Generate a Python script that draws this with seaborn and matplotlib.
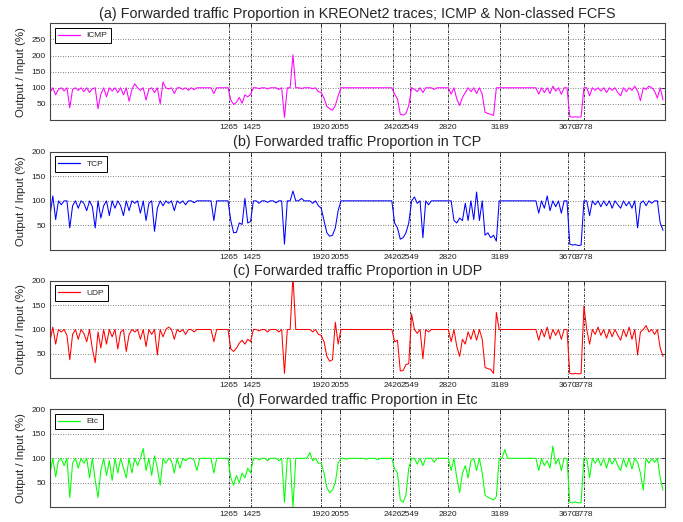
import numpy as np
import pandas as pd
import matplotlib
matplotlib.use("Agg")
import matplotlib.pyplot as plt
from matplotlib.lines import Line2D
import seaborn as sns

# ---------------- data ----------------
# sample positions (trace index), every 20 samples from 0 to 4340
X = np.arange(0, 4341, 20)

EVENT_TICKS = [1265, 1425, 1920, 2055, 2426, 2549, 2820, 3189, 3670, 3778]

ICMP = [
    85, 100, 78, 95, 100, 90, 100, 38, 95, 100,        # 0-180
    92, 100, 88, 100, 85, 97, 100, 35, 80, 100,        # 200-380
    72, 100, 90, 100, 85, 100, 78, 100, 58, 95,        # 400-580
    112, 100, 92, 100, 62, 95, 100, 85, 100, 50,       # 600-780
    118, 100, 96, 100, 82, 100, 100, 95, 100, 92,      # 800-980
    100, 94, 100, 100, 100, 100, 100, 100, 82, 100,    # 1000-1180
    100, 100, 100, 100, 62, 48, 55, 70, 52, 78,        # 1200-1380
    72, 80, 100, 100, 97, 100, 100, 96, 100, 100,      # 1400-1580
    100, 95, 100, 8, 100, 100, 202, 100, 100, 98,      # 1600-1780
    100, 100, 100, 97, 100, 88, 85, 68, 42, 35,        # 1800-1980
    30, 45, 75, 100, 100, 100, 100, 100, 100, 100,     # 2000-2180
    100, 100, 100, 100, 100, 100, 100, 100, 100, 100,  # 2200-2380
    100, 100, 80, 65, 18, 15, 20, 45, 100, 95,         # 2400-2580
    88, 100, 85, 100, 100, 100, 95, 100, 100, 100,     # 2600-2780
    100, 100, 80, 100, 65, 45, 70, 85, 100, 88,        # 2800-2980
    100, 82, 100, 80, 24, 20, 18, 14, 100, 100,        # 3000-3180
    100, 100, 100, 100, 100, 100, 100, 100, 100, 100,  # 3200-3380
    100, 100, 100, 80, 100, 85, 100, 82, 105, 90,      # 3400-3580
    100, 80, 100, 100, 10, 9, 10, 9, 10, 100,          # 3600-3780
    100, 75, 100, 92, 100, 90, 100, 85, 100, 92,       # 3800-3980
    100, 85, 75, 100, 88, 100, 92, 105, 90, 60,        # 4000-4180
    100, 95, 105, 100, 90, 68, 100, 62,                # 4200-4340
]

TCP = [
    70, 110, 62, 100, 92, 100, 100, 45, 90, 100,
    85, 100, 95, 80, 100, 88, 45, 100, 65, 90,
    100, 70, 100, 85, 100, 90, 70, 100, 80, 100,
    95, 100, 75, 100, 60, 95, 100, 38, 85, 100,
    90, 100, 95, 100, 80, 100, 95, 100, 92, 100,
    100, 96, 100, 100, 100, 100, 100, 100, 60, 100,
    100, 100, 100, 100, 60, 35, 36, 55, 52, 105,
    55, 58, 100, 100, 95, 100, 100, 97, 100, 100,
    96, 100, 100, 12, 100, 100, 120, 100, 100, 105,
    100, 100, 100, 95, 100, 90, 85, 60, 35, 28,
    30, 45, 80, 100, 100, 100, 100, 100, 100, 100,
    100, 100, 100, 100, 100, 100, 100, 100, 100, 100,
    100, 100, 55, 45, 22, 25, 35, 55, 100, 108,
    95, 100, 25, 100, 92, 100, 100, 100, 100, 100,
    100, 100, 100, 60, 55, 65, 60, 95, 60, 100,
    62, 118, 60, 100, 30, 35, 25, 30, 18, 100,
    100, 100, 100, 100, 100, 100, 100, 100, 100, 100,
    100, 100, 100, 75, 100, 85, 110, 80, 100, 88,
    100, 75, 100, 100, 12, 10, 11, 9, 10, 100,
    100, 70, 100, 92, 100, 88, 100, 90, 100, 85,
    100, 92, 85, 100, 90, 98, 85, 100, 45, 95,
    100, 90, 100, 95, 100, 100, 55, 40,
]

UDP = [
    75, 105, 70, 100, 95, 100, 88, 38, 90, 100,
    80, 100, 92, 75, 100, 60, 32, 95, 62, 100,
    70, 100, 85, 100, 60, 95, 100, 55, 90, 100,
    95, 100, 80, 100, 65, 100, 90, 100, 48, 100,
    85, 100, 105, 100, 80, 100, 95, 100, 90, 100,
    100, 95, 100, 100, 100, 100, 100, 100, 75, 100,
    100, 100, 100, 100, 60, 55, 62, 72, 78, 70,
    80, 75, 100, 100, 97, 100, 100, 95, 100, 100,
    100, 95, 100, 10, 100, 100, 210, 100, 100, 100,
    100, 100, 100, 95, 100, 90, 88, 75, 45, 35,
    38, 115, 70, 100, 100, 100, 100, 100, 100, 100,
    100, 100, 100, 100, 100, 100, 100, 100, 100, 100,
    100, 100, 75, 78, 15, 16, 28, 30, 132, 100,
    92, 100, 40, 100, 95, 100, 100, 100, 100, 100,
    100, 100, 75, 100, 65, 45, 80, 70, 95, 80,
    100, 78, 100, 80, 22, 20, 18, 10, 135, 100,
    100, 100, 100, 100, 100, 100, 100, 100, 100, 100,
    100, 100, 100, 78, 100, 85, 105, 80, 100, 88,
    100, 80, 100, 100, 10, 9, 10, 9, 10, 148,
    100, 70, 100, 90, 105, 88, 100, 82, 100, 85,
    100, 88, 78, 100, 85, 105, 80, 100, 48, 95,
    100, 108, 95, 100, 90, 100, 62, 45,
]

ETC = [
    70, 100, 62, 95, 100, 85, 100, 20, 90, 100,
    80, 100, 90, 100, 60, 100, 55, 20, 75, 100,
    65, 95, 55, 100, 70, 100, 80, 60, 100, 70,
    100, 85, 100, 120, 75, 100, 65, 105, 80, 45,
    100, 90, 100, 95, 70, 100, 80, 100, 95, 100,
    100, 96, 75, 100, 100, 100, 100, 100, 70, 100,
    100, 100, 100, 100, 60, 45, 65, 50, 70, 60,
    80, 70, 100, 100, 97, 100, 100, 95, 100, 100,
    100, 95, 100, 10, 100, 100, 0, 100, 100, 100,
    100, 100, 112, 95, 100, 90, 90, 70, 40, 30,
    35, 50, 90, 100, 100, 98, 100, 100, 100, 100,
    100, 100, 98, 100, 100, 100, 97, 100, 100, 100,
    100, 100, 78, 70, 15, 10, 25, 80, 100, 100,
    88, 100, 85, 100, 100, 100, 92, 100, 100, 100,
    100, 100, 75, 100, 60, 30, 70, 85, 60, 95,
    100, 75, 100, 70, 25, 20, 18, 15, 22, 100,
    100, 118, 100, 100, 100, 100, 100, 100, 100, 100,
    100, 100, 100, 75, 100, 85, 95, 80, 125, 88,
    100, 75, 100, 100, 10, 9, 11, 9, 10, 100,
    100, 60, 100, 90, 100, 85, 100, 80, 100, 88,
    100, 85, 75, 100, 82, 100, 78, 100, 92, 70,
    35, 100, 90, 100, 92, 100, 60, 35,
]

TITLES = [
    "(a) Forwarded traffic Proportion in KREONet2 traces; ICMP & Non-classed FCFS",
    "(b) Forwarded traffic Proportion in TCP",
    "(c) Forwarded traffic Proportion in UDP",
    "(d) Forwarded traffic Proportion in Etc",
]
LABELS = ["ICMP", "TCP", "UDP", "Etc"]
SERIES = [ICMP, TCP, UDP, ETC]
COLORS = ["#ff00ff", "#0000ff", "#ff0000", "#00ff00"]
YMAX = [300, 200, 200, 200]
YTICKS = [[50, 100, 150, 200, 250], [50, 100, 150, 200],
          [50, 100, 150, 200], [50, 100, 150, 200]]
YLABEL = "Output / Input (%)"

# ---------------- figure ----------------
sns.set_theme(style="white")
plt.rcParams["font.family"] = ["Liberation Sans", "DejaVu Sans"]

fig = plt.figure(figsize=(6.83, 5.22), dpi=100)
W, H = 683.0, 522.0
left_px, right_px = 50.0, 665.0
panels_px = [(23.3, 120.0), (151.7, 250.0), (280.7, 378.3), (409.3, 507.3)]

for i, (top, bot) in enumerate(panels_px):
    ax = fig.add_axes([left_px / W, 1 - bot / H, (right_px - left_px) / W, (bot - top) / H])
    df = pd.DataFrame({"x": X, "y": SERIES[i]})
    sns.lineplot(data=df, x="x", y="y", ax=ax, color=COLORS[i], lw=0.75,
                 estimator=None, sort=False, legend=False)
    ax.set_xlim(0, 4354)
    ax.set_ylim(0, YMAX[i])
    ax.set_yticks(YTICKS[i])
    ax.set_xticks(EVENT_TICKS)
    ax.set_xticklabels([str(t) for t in EVENT_TICKS])
    ax.tick_params(axis="both", direction="in", length=3, width=0.6,
                   labelsize=6, top=True, right=True, pad=3, colors="#222222")
    for s in ax.spines.values():
        s.set_color("#444444")
        s.set_linewidth(0.8)
    ax.yaxis.grid(True, linestyle=(0, (1, 2)), color="#555555", lw=0.6)
    ax.xaxis.grid(True, linestyle=(0, (3, 1.5, 1, 1.5)), color="#111111", lw=0.6)
    ax.set_axisbelow(True)
    ax.set_xlabel("")
    ax.set_ylabel(YLABEL, fontsize=8.2, labelpad=4)
    ax.set_title(TITLES[i], fontsize=10.4, pad=4)
    handle = Line2D([], [], color=COLORS[i], lw=0.9)
    leg = ax.legend(handles=[handle], labels=[LABELS[i]], loc="upper left",
                    fontsize=6, frameon=True, fancybox=False,
                    framealpha=1, edgecolor="black", handlelength=2.6,
                    borderpad=0.45, borderaxespad=0.55, handletextpad=0.8)
    leg.get_frame().set_linewidth(0.7)

fig.savefig("out.png", dpi=100)
